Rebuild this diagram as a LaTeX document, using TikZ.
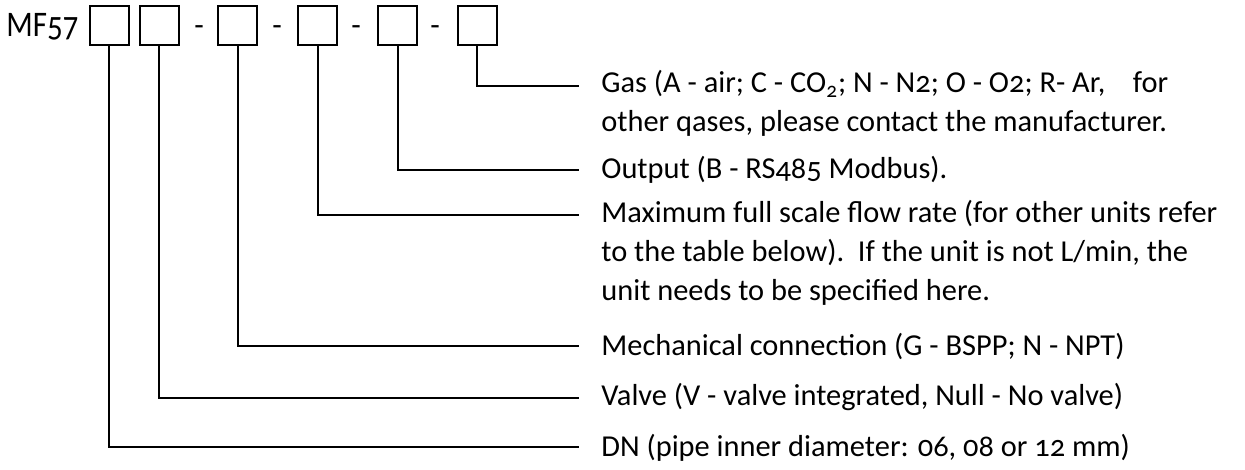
\documentclass[tikz,border=0pt]{standalone}
\usepackage{graphicx}
\usepackage{fontspec}
\setmainfont{Carlito}[Numbers=OldStyle]
\begin{document}
\begin{tikzpicture}[x=0.5pt,y=-0.5pt,
  box/.style={draw, line width=1pt, minimum width=19.5pt, minimum height=19.5pt, inner sep=0pt, outer sep=0pt},
  conn/.style={draw, line width=1pt},
  txt/.style={anchor=base west, inner sep=0pt, font=\fontsize{15.2}{18}\selectfont},
  big/.style={anchor=base west, inner sep=0pt, font=\fontsize{18}{21}\selectfont},
  dsh/.style={anchor=base, inner sep=0pt, font=\fontsize{15.5}{19}\selectfont}]
\useasboundingbox (0,0) rectangle (1245,470);
% header
\node[big] (mf) at (6,37) {\scalebox{0.86}[1]{MF57}};
\node[box] (b1) at (109.3,25.5) {};
\node[box] (b2) at (159.3,25.5) {};
\node[dsh] (d1) at (199,36) {-};
\node[box] (b3) at (237.5,25.5) {};
\node[dsh] (d2) at (277,36) {-};
\node[box] (b4) at (317.8,25.5) {};
\node[dsh] (d3) at (356,36) {-};
\node[box] (b5) at (397.8,25.5) {};
\node[dsh] (d4) at (435,36) {-};
\node[box] (b6) at (477,25.5) {};
% connector ends
\coordinate (e6) at (579,86);
\coordinate (e5) at (579,170);
\coordinate (e4) at (579,215);
\coordinate (e3) at (579,346);
\coordinate (e2) at (579,398);
\coordinate (e1) at (579,447);
\foreach \i in {1,...,6}{
  \draw[conn] (b\i.south) -- (b\i.south |- e\i) -- (e\i);
}
% texts
\node[txt] (t6a) at (601,93) {Gas (A - air; C - CO\textsubscript{2}; N - N2; O - O2; R- Ar,\ \ \ \ for};
\node[txt] (t6b) at (601,132) {other qases, please contact the manufacturer.};
\node[txt] (t5) at (601,178) {Output (B - RS485 Modbus).};
\node[txt] (t4a) at (601,222) {Maximum full scale flow rate (for other units refer};
\node[txt] (t4b) at (601,261) {to the table below).\ \ If the unit is not L/min, the};
\node[txt] (t4c) at (601,300) {unit needs to be specified here.};
\node[txt] (t3) at (601,355) {Mechanical connection (G - BSPP; N - NPT)};
\node[txt] (t2) at (601,405) {Valve (V - valve integrated, Null - No valve)};
\node[txt] (t1) at (601,456) {DN (pipe inner diameter: 06, 08 or 12 mm)};
\end{tikzpicture}
\end{document}
